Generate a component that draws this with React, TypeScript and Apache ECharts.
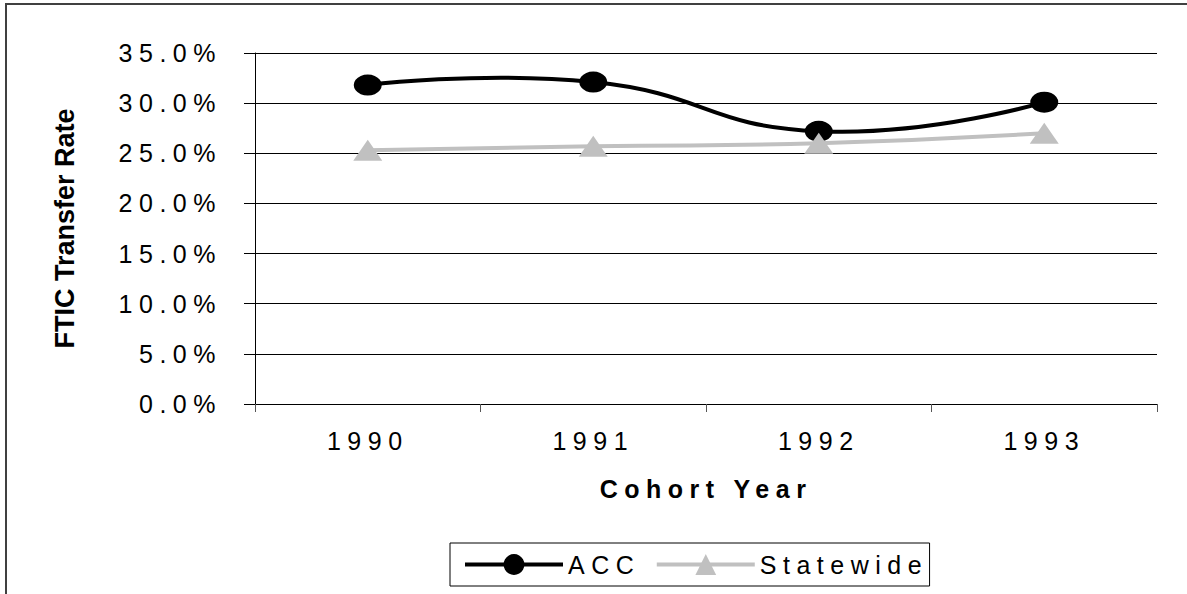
import React, { useEffect, useRef } from 'react';
import * as echarts from 'echarts';

const years = ['1990', '1991', '1992', '1993'];
const accRates = [31.8, 32.1, 27.2, 30.1];
const statewideRates = [25.3, 25.7, 26.0, 27.0];
const yMin = 0;
const yMax = 35;
const yStep = 5;

const accColor = '#000';
const stateColor = '#c0c0c0';
const lineW = 4;

function smoothCurve(values: number[], color: string, name: string, z: number) {
  return {
    name,
    type: 'custom',
    data: values.map((v, i) => [i, v]),
    encode: { x: 0, y: 1 },
    clip: false,
    silent: true,
    z,
    renderItem: (params: any, api: any) => {
      if (params.dataIndex !== 0) return null;
      const pts = values.map((v, i) => api.coord([i, v]));
      return {
        type: 'polyline',
        shape: { points: pts, smooth: 0.5 },
        style: { stroke: color, lineWidth: lineW, fill: 'none' },
      };
    },
  };
}

export default function App() {
  const ref = useRef<HTMLDivElement>(null);
  useEffect(() => {
    const chart = echarts.init(ref.current!, null, { renderer: 'svg' });
    chart.setOption({
      animation: false,
      backgroundColor: '#fff',
      textStyle: { fontFamily: 'Liberation Sans' },
      grid: { left: 255, right: 30, top: 53, bottom: 190, containLabel: false },
      xAxis: {
        type: 'category',
        data: years,
        boundaryGap: true,
        axisLine: { lineStyle: { color: '#000', width: 1 } },
        axisTick: { show: true, length: 8, lineStyle: { color: '#555' } },
        axisLabel: { color: '#000', fontSize: 25, margin: 24, fontFamily: 'Liberation Sans' },
        splitLine: { show: false },
        name: 'Cohort Year',
        nameLocation: 'middle',
        nameGap: 72,
        nameTextStyle: { color: '#000', fontSize: 25, fontWeight: 'bold', fontFamily: 'Liberation Sans' },
      },
      yAxis: {
        type: 'value',
        min: yMin,
        max: yMax,
        interval: yStep,
        axisLine: { show: true, lineStyle: { color: '#000', width: 1 } },
        axisTick: { show: true, length: 11, lineStyle: { color: '#000' } },
        axisLabel: {
          color: '#000',
          fontSize: 25,
          margin: 33,
          fontFamily: 'Liberation Sans',
          formatter: (v: number) => v.toFixed(1) + '%',
        },
        splitLine: { show: true, lineStyle: { color: '#000', width: 1 } },
        name: 'FTIC Transfer Rate',
        nameLocation: 'middle',
        nameGap: 177,
        nameTextStyle: { color: '#000', fontSize: 27, fontWeight: 'bold', fontFamily: 'Liberation Sans' },
      },
      legend: {
        left: 450,
        top: 543,
        orient: 'horizontal',
        padding: [9, 60, 9, 13],
        borderColor: '#000',
        borderWidth: 1,
        itemWidth: 98,
        itemHeight: 26,
        itemGap: 34,
        textStyle: { color: '#000', fontSize: 25, fontFamily: 'Liberation Sans' },
        data: [
          { name: 'ACC', lineStyle: { opacity: 1, width: lineW, color: accColor } },
          { name: 'Statewide', lineStyle: { opacity: 1, width: lineW, color: stateColor } },
        ],
      },
      graphic: [
        {
          type: 'polyline',
          shape: { points: [[6, 600], [6, 4], [1200, 4]] },
          style: { stroke: '#404040', lineWidth: 2, fill: 'none' },
        },
      ],
      series: [
        smoothCurve(accRates, accColor, 'ACC curve', 2),
        {
          name: 'ACC',
          type: 'line',
          data: accRates,
          symbol: 'circle',
          symbolSize: [28, 21],
          lineStyle: { color: accColor, width: lineW, opacity: 0 },
          itemStyle: { color: accColor },
          z: 3,
        },
        smoothCurve(statewideRates, stateColor, 'Statewide curve', 4),
        {
          name: 'Statewide',
          type: 'line',
          data: statewideRates,
          symbol: 'triangle',
          symbolSize: [29, 21],
          lineStyle: { color: stateColor, width: lineW, opacity: 0 },
          itemStyle: { color: stateColor },
          z: 5,
        },
      ],
    });
    return () => chart.dispose();
  }, []);
  return (
    <div style={{ position: 'absolute', left: 0, top: 0, width: 1187, height: 594, background: '#fff' }}>
      <style>{`.fchart text { letter-spacing: 6.5px; } .fchart text[style*="27px"] { letter-spacing: 0; }`}</style>
      <div ref={ref} className="fchart" style={{ width: 1187, height: 594 }} />
    </div>
  );
}
